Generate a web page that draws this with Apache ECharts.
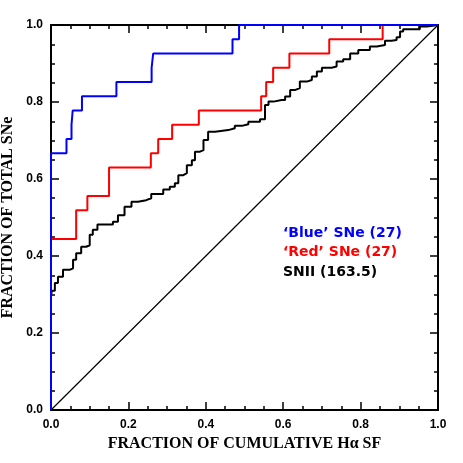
<!DOCTYPE html>
<html>
<head>
<meta charset="utf-8">
<script src="https://cdn.jsdelivr.net/npm/echarts@6/dist/echarts.min.js"></script>
<style>
  html, body { margin: 0; padding: 0; background: #fff; }
  #chart { width: 463px; height: 463px; }
</style>
</head>
<body>
<div id="chart"></div>
<script>
// cumulative step points [x, y], step happens at x
const blueSteps = [
  [0, 0], [0, 0.667], [0.04, 0.704], [0.053, 0.741], [0.056, 0.778],
  [0.08, 0.815], [0.169, 0.852], [0.26, 0.889], [0.264, 0.926],
  [0.469, 0.963], [0.486, 1.0], [1.0, 1.0]
];
const redSteps = [
  [0, 0.444], [0.065, 0.519], [0.094, 0.556], [0.15, 0.630], [0.258, 0.667],
  [0.277, 0.704], [0.313, 0.741], [0.382, 0.778], [0.543, 0.815],
  [0.556, 0.852], [0.574, 0.889], [0.616, 0.926], [0.719, 0.963],
  [0.857, 1.0], [1.0, 1.0]
];
const snIISteps = [
  [0, 0.295], [0.002, 0.31], [0.01, 0.33], [0.018, 0.346], [0.031, 0.364],
  [0.048, 0.368], [0.057, 0.39], [0.065, 0.407], [0.078, 0.424],
  [0.091, 0.428], [0.1, 0.455], [0.108, 0.468], [0.12, 0.482],
  [0.147, 0.482], [0.16, 0.489], [0.173, 0.506], [0.19, 0.528],
  [0.208, 0.541], [0.225, 0.545], [0.246, 0.55], [0.259, 0.561],
  [0.282, 0.561], [0.29, 0.573], [0.307, 0.58], [0.32, 0.589],
  [0.329, 0.61], [0.342, 0.615], [0.351, 0.636], [0.364, 0.649],
  [0.372, 0.671], [0.385, 0.675], [0.394, 0.701], [0.406, 0.723],
  [0.424, 0.727], [0.458, 0.732], [0.475, 0.738], [0.493, 0.742],
  [0.51, 0.749], [0.54, 0.755], [0.553, 0.792], [0.562, 0.801],
  [0.575, 0.805], [0.596, 0.805], [0.605, 0.814], [0.618, 0.831],
  [0.63, 0.836], [0.643, 0.853], [0.661, 0.857], [0.674, 0.866],
  [0.687, 0.879], [0.7, 0.889], [0.725, 0.892], [0.738, 0.905],
  [0.755, 0.911], [0.773, 0.926], [0.794, 0.935], [0.824, 0.944],
  [0.842, 0.948], [0.863, 0.959], [0.88, 0.961], [0.893, 0.968],
  [0.902, 0.983], [0.91, 0.989], [0.945, 0.989], [0.953, 0.996],
  [0.971, 1.0], [1.0, 1.0]
];
const diagonal = [[0, 0], [1, 1]];
const legendLines = [
  { text: "\u2018Blue\u2019 SNe (27)", color: '#0000ff' },
  { text: "\u2018Red\u2019 SNe (27)", color: '#ff0000' },
  { text: 'SNII (163.5)', color: '#000000' }
];

const chart = echarts.init(document.getElementById('chart'), null, { renderer: 'canvas' });

const labelFont = { fontFamily: 'Liberation Sans', fontWeight: 'bold', fontSize: 12, color: '#000' };
const nameFont = { fontFamily: 'Liberation Serif', fontWeight: 'bold', fontSize: 16, color: '#000' };

function makeAxis(extra, margin) {
  return Object.assign({
    type: 'value',
    min: 0,
    max: 1,
    interval: 0.2,
    axisLine: { show: true, onZero: false, lineStyle: { color: '#000', width: 2 } },
    axisTick: { show: true, inside: true, length: 8, lineStyle: { color: '#000', width: 1.5 } },
    minorTick: { show: true, splitNumber: 4, length: 4, lineStyle: { color: '#000', width: 1.5 } },
    splitLine: { show: false },
    axisLabel: Object.assign({ formatter: v => v.toFixed(1), margin: margin || 8 }, labelFont)
  }, extra);
}

const option = {
  animation: false,
  backgroundColor: '#fff',
  grid: { left: 51, top: 25, right: 25, bottom: 53, containLabel: false, outerBoundsMode: 'none' },
  xAxis: [
    makeAxis({
      position: 'bottom',
      name: 'FRACTION OF CUMULATIVE H\u03b1 SF',
      nameLocation: 'middle',
      nameGap: 25,
      nameTextStyle: nameFont
    }, 9),
    makeAxis({ position: 'top', axisLabel: { show: false } })
  ],
  yAxis: [
    makeAxis({
      position: 'left',
      name: 'FRACTION OF TOTAL SNe',
      nameLocation: 'middle',
      nameGap: 34,
      nameTextStyle: nameFont
    }, 8),
    makeAxis({ position: 'right', axisLabel: { show: false } })
  ],
  graphic: legendLines.map((l, i) => ({
    type: 'text',
    left: 283,
    top: 226 + i * 19.5,
    style: {
      text: l.text,
      fill: l.color,
      font: 'bold 14px "DejaVu Sans"'
    }
  })),
  series: [
    {
      type: 'line', data: diagonal, showSymbol: false,
      lineStyle: { color: '#000', width: 1.2 }
    },
    {
      type: 'line', data: snIISteps, step: 'end', showSymbol: false,
      lineStyle: { color: '#000', width: 2 }
    },
    {
      type: 'line', data: redSteps, step: 'end', showSymbol: false,
      lineStyle: { color: '#ff0000', width: 2 }
    },
    {
      type: 'line', data: blueSteps, step: 'end', showSymbol: false,
      lineStyle: { color: '#0000ff', width: 2 }
    }
  ]
};

chart.setOption(option);
</script>
</body>
</html>
